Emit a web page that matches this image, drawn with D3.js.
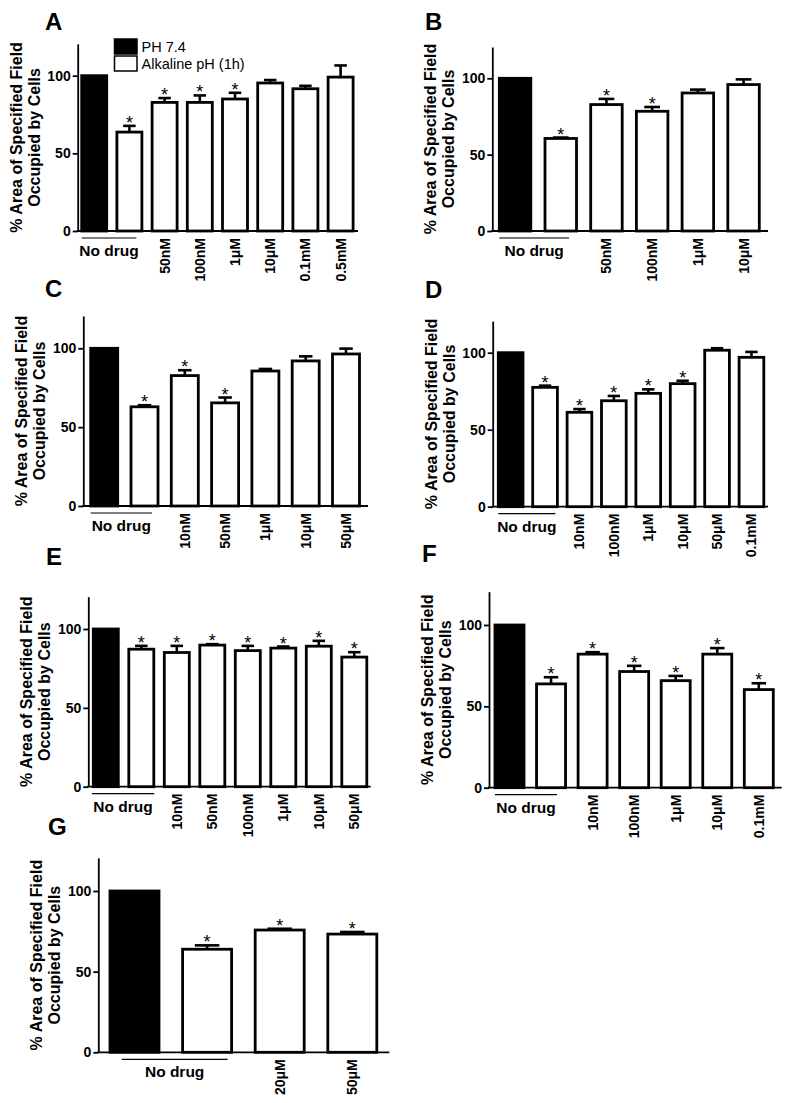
<!DOCTYPE html>
<html>
<head>
<meta charset="utf-8">
<script src="https://cdn.jsdelivr.net/npm/d3@7"></script>
<style>
  html, body { margin: 0; padding: 0; background: #fff; }
  svg { display: block; }
  text { font-family: "Liberation Sans", Arial, Helvetica, sans-serif; fill: #000; }
</style>
</head>
<body>
<svg id="chart" width="791" height="1103"></svg>
<script>
// ---------------- DATA ----------------
const legendLabels = ["PH 7.4", "Alkaline pH (1h)"];
const yTitleLines = ["% Area of Specified Field", "Occupied by Cells"];
const yTicks = [0, 50, 100];
const noDrugLabel = "No drug";

const labelsA = ["50nM", "100nM", "1μM", "10μM", "0.1mM", "0.5mM"];
const meansA  = [100, 63.7, 82.8, 82.8, 85.0, 95.3, 91.6, 99.1];
const errsA   = [0, 4.0, 2.8, 4.5, 4.0, 1.9, 1.9, 7.5];
const sigA    = [0, 1, 1, 1, 1, 0, 0, 0];

const labelsB = ["50nM", "100nM", "1μM", "10μM"];
const meansB  = [100, 60.6, 82.8, 78.4, 90.4, 95.9];
const errsB   = [0, 0.6, 3.7, 2.8, 2.2, 3.4];
const sigB    = [0, 1, 1, 1, 0, 0];

const labelsC = ["10nM", "50nM", "1μM", "10μM", "50μM"];
const meansC  = [100, 62.9, 82.7, 65.4, 85.6, 92.0, 96.4];
const errsC   = [0, 1.0, 3.4, 3.4, 1.3, 2.9, 3.4];
const sigC    = [0, 1, 1, 1, 0, 0, 0];

const labelsD = ["10nM", "100nM", "1μM", "10μM", "50μM", "0.1mM"];
const meansD  = [100, 77.5, 61.3, 68.8, 73.6, 79.9, 101.6, 97.0];
const errsD   = [0, 1.1, 2.1, 3.1, 2.6, 1.9, 1.3, 3.5];
const sigD    = [0, 1, 1, 1, 1, 1, 0, 0];

const labelsE = ["10nM", "50nM", "100nM", "1μM", "10μM", "50μM"];
const meansE  = [100, 87.2, 85.1, 89.8, 86.3, 87.9, 89.1, 82.2];
const errsE   = [0, 2.1, 4.2, 0.6, 3.0, 1.0, 3.4, 3.1];
const sigE    = [0, 1, 1, 1, 1, 1, 1, 1];

const labelsF = ["10nM", "100nM", "1μM", "10μM", "0.1mM"];
const meansF  = [100, 63.8, 82.1, 71.4, 65.8, 82.1, 60.3];
const errsF   = [0, 4.1, 1.2, 3.5, 2.9, 3.7, 3.9];
const sigF    = [0, 1, 1, 1, 1, 1, 1];

const labelsG = ["20μM", "50μM"];
const meansG  = [100, 63.9, 75.8, 73.3];
const errsG   = [0, 2.4, 0.8, 1.3];
const sigG    = [0, 1, 1, 1];

// ---------------- LAYOUT ----------------
const panels = [
  {letter: "A", lx: 45, ly: 30, axisX: 77.7, zeroY: 231, y100: 75.7, xEnd: 358, barL: 81.7, pitch: 35.2, barW: 25,
   labels: labelsA, means: meansA, errs: errsA, sig: sigA, ndL: 0, ndR: -5.5, legend: true},
  {letter: "B", lx: 425, ly: 30, axisX: 492.3, zeroY: 231, y100: 78.3, xEnd: 768, barL: 499.3, pitch: 45.7, barW: 31.5,
   labels: labelsB, means: meansB, errs: errsB, sig: sigB, ndL: 0, ndR: -7.5, gray: true},
  {letter: "C", lx: 45, ly: 297, axisX: 83.3, zeroY: 506, y100: 348.3, xEnd: 368, barL: 90.7, pitch: 40.3, barW: 27,
   labels: labelsC, means: meansC, errs: errsC, sig: sigC, ndL: 0, ndR: -6},
  {letter: "D", lx: 425, ly: 298, axisX: 492.7, zeroY: 506.7, y100: 352.7, xEnd: 768, barL: 498.3, pitch: 34.4, barW: 24.7,
   labels: labelsD, means: meansD, errs: errsD, sig: sigD, ndL: 0, ndR: -2},
  {letter: "E", lx: 46, ly: 565, axisX: 88.3, zeroY: 786.7, y100: 629, xEnd: 370.7, barL: 93.3, pitch: 35.5, barW: 25,
   labels: labelsE, means: meansE, errs: errsE, sig: sigE, ndL: -1.5, ndR: 0.5},
  {letter: "F", lx: 422, ly: 562, axisX: 489, zeroY: 787.7, y100: 625, xEnd: 781.7, barL: 495, pitch: 41.55, barW: 29,
   labels: labelsF, means: meansF, errs: errsF, sig: sigF, ndL: 0, ndR: -8.5},
  {letter: "G", lx: 48, ly: 835, axisX: 98.3, zeroY: 1052.3, y100: 891, xEnd: 389.3, barL: 110, pitch: 72.6, barW: 49,
   labels: labelsG, means: meansG, errs: errsG, sig: sigG, ndL: 11.7, ndR: -4}
];

const svg = d3.select("#chart");
const FONT = '"Liberation Sans", Arial, Helvetica, sans-serif';

panels.forEach(p => {
  const g = svg.append("g");
  const n = p.means.length;
  const pxPerUnit = (p.zeroY - p.y100) / 100;
  const yMax = 120.5;
  const y = d3.scaleLinear().domain([0, yMax]).range([p.zeroY, p.zeroY - yMax * pxPerUnit]);
  const gap = p.pitch - p.barW;
  const r0 = p.barL - gap / 2;
  const x = d3.scaleBand().domain(d3.range(n)).range([r0, r0 + n * p.pitch])
    .paddingInner(gap / p.pitch).paddingOuter(gap / (2 * p.pitch));
  const W = x.bandwidth();

  // panel letter
  g.append("text").attr("x", p.lx).attr("y", p.ly)
    .attr("font-size", 24).attr("font-weight", "bold").text(p.letter);

  // y axis
  const yAxis = d3.axisLeft(y).tickValues(yTicks).tickSize(5).tickSizeOuter(0).tickPadding(2);
  const ya = g.append("g").attr("transform", `translate(${p.axisX},0)`).call(yAxis);
  ya.select(".domain").attr("stroke", "#000").attr("stroke-width", 1.8);
  ya.selectAll(".tick line").attr("stroke", "#000").attr("stroke-width", 1.8);
  ya.selectAll(".tick text").attr("font-family", FONT).attr("font-size", 14)
    .attr("font-weight", "bold").attr("fill", "#000");

  // x axis line
  g.append("line").attr("x1", p.axisX - 1).attr("x2", p.xEnd)
    .attr("y1", y(0)).attr("y2", y(0)).attr("stroke", "#000").attr("stroke-width", 1.8);

  // y title
  const midY = (y(0) + y(yMax)) / 2;
  const fsT = 16;
  [-56, -38].forEach((dx, i) => {
    g.append("text")
      .attr("transform", `translate(${p.axisX + dx},${midY}) rotate(-90)`)
      .attr("text-anchor", "middle").attr("font-size", fsT).attr("font-weight", "bold")
      .text(yTitleLines[i]);
  });

  // bars
  const idx = d3.range(n);
  g.selectAll("rect.bar").data(idx).join("rect").attr("class", "bar")
    .attr("x", i => x(i)).attr("width", W)
    .attr("y", i => y(p.means[i])).attr("height", i => y(0) - y(p.means[i]))
    .attr("fill", i => i === 0 ? "#000" : "#fff")
    .attr("stroke", "#000").attr("stroke-width", 2.8);

  // error bars (upper only)
  const errIdx = idx.filter(i => p.errs[i] > 0);
  const cap = W * 0.5;
  g.selectAll("line.err").data(errIdx).join("line").attr("class", "err")
    .attr("x1", i => x(i) + W / 2).attr("x2", i => x(i) + W / 2)
    .attr("y1", i => y(p.means[i])).attr("y2", i => y(p.means[i] + p.errs[i]))
    .attr("stroke", "#000").attr("stroke-width", 2.6);
  g.selectAll("line.cap").data(errIdx).join("line").attr("class", "cap")
    .attr("x1", i => x(i) + W / 2 - cap / 2).attr("x2", i => x(i) + W / 2 + cap / 2)
    .attr("y1", i => y(p.means[i] + p.errs[i])).attr("y2", i => y(p.means[i] + p.errs[i]))
    .attr("stroke", "#000").attr("stroke-width", 2.6);

  // significance stars
  g.selectAll("text.star").data(idx.filter(i => p.sig[i])).join("text").attr("class", "star")
    .attr("x", i => x(i) + W / 2).attr("y", i => y(p.means[i] + p.errs[i]) + 3)
    .attr("text-anchor", "middle").attr("font-size", 18).text("*");

  // "No drug" bracket
  const ndx1 = x(0) + p.ndL, ndx2 = x(1) + W + p.ndR;
  g.append("line").attr("x1", ndx1).attr("x2", ndx2)
    .attr("y1", y(0) + 7).attr("y2", y(0) + 7)
    .attr("stroke", p.gray ? "#777" : "#000").attr("stroke-width", p.gray ? 2 : 1.2);
  g.append("text").attr("x", (ndx1 + ndx2) / 2).attr("y", y(0) + 25)
    .attr("text-anchor", "middle").attr("font-size", 15.5).attr("font-weight", "bold")
    .text(noDrugLabel);

  // rotated concentration labels
  const fsL = 14;
  g.selectAll("text.cat").data(p.labels).join("text").attr("class", "cat")
    .attr("transform", (d, j) => `translate(${x(j + 2) + W / 2 + fsL * 0.36},${y(0) + 7}) rotate(-90)`)
    .attr("text-anchor", "end").attr("font-size", fsL).attr("font-weight", "bold")
    .text(d => d);

  // legend
  if (p.legend) {
    const lg = g.append("g");
    const boxes = [{y0: 39, fill: "#000"}, {y0: 56, fill: "#fff"}];
    lg.selectAll("rect").data(legendLabels).join("rect")
      .attr("x", 114.5).attr("y", (d, i) => boxes[i].y0).attr("width", 22.5).attr("height", 15)
      .attr("fill", (d, i) => boxes[i].fill).attr("stroke", "#000").attr("stroke-width", 1.5);
    lg.selectAll("text").data(legendLabels).join("text")
      .attr("x", 141.5).attr("y", (d, i) => boxes[i].y0 + 12.5)
      .attr("font-size", 14.5).text(d => d);
  }
});
</script>
</body>
</html>
